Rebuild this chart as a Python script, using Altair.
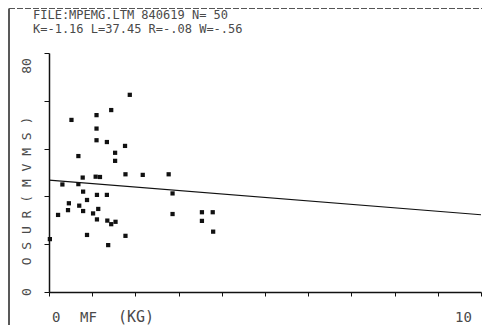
import altair as alt
import pandas as pd

# Data
mf = [1.87, 1.44, 1.10, 0.52, 1.10, 1.10, 1.34, 1.76, 1.53, 0.68, 1.53, 0.78, 1.08, 1.18,
      1.77, 2.17, 2.77, 0.31, 0.68, 0.79, 1.11, 1.34, 0.88, 0.46, 0.70, 0.44, 0.79, 1.14,
      0.21, 1.02, 1.11, 1.35, 1.54, 1.44, 0.88, 1.77, 1.37, 0.02, 2.86, 2.86, 3.54, 3.79,
      3.54, 3.80]
osur = [66.0, 60.9, 59.2, 57.6, 54.7, 50.8, 50.2, 48.9, 46.6, 45.5, 43.9, 38.3, 38.6, 38.5,
        39.4, 39.2, 39.4, 36.0, 36.1, 33.6, 32.5, 32.5, 30.8, 29.7, 28.9, 27.4, 27.1, 27.8,
        25.8, 26.3, 24.3, 23.9, 23.5, 22.7, 19.1, 18.8, 15.7, 17.7, 33.0, 26.1, 26.7, 26.7,
        23.8, 20.2]
fit_x = [0, 10]
fit_y = [37.45, 25.85]
x_ticks = list(range(0, 11))
y_ticks = list(range(0, 81, 8))

title1 = "FILE:MPEMG.LTM 840619 N= 50"
title2 = "K=-1.16 L=37.45 R=-.08 W=-.56"
xlab_parts = ["0", "MF", "(KG)"]
xmax_lab = "10"
ylab = "O S U R  ( M V  M S )"
ymax_lab = "80"
ymin_lab = "0"

pts = pd.DataFrame({"mf": mf, "osur": osur})
fit = pd.DataFrame({"mf": fit_x, "osur": fit_y})

FONT = "DejaVu Sans Mono"
TXT = "#4a4a4a"

xs = alt.Scale(domain=[0, 10], nice=False, zero=False)
ys = alt.Scale(domain=[0, 80], nice=False, zero=False)

xaxis = alt.Axis(values=x_ticks, labels=False, title=None, grid=False, tickSize=4,
                 domainColor="#111", tickColor="#111", domainWidth=1.5, tickWidth=1)
yaxis = alt.Axis(values=y_ticks, labels=False, title=None, grid=False, tickSize=5,
                 domainColor="#111", tickColor="#111", domainWidth=1.5, tickWidth=1)

points = alt.Chart(pts).mark_square(size=18, color="#111", opacity=1).encode(
    x=alt.X("mf:Q", scale=xs, axis=xaxis),
    y=alt.Y("osur:Q", scale=ys, axis=yaxis),
)
line = alt.Chart(fit).mark_line(color="#111", strokeWidth=1.2).encode(
    x=alt.X("mf:Q", scale=xs),
    y=alt.Y("osur:Q", scale=ys),
)

one = alt.Data(values=[{"a": 1}])

def txt(s, x, y, size=13, align="left", baseline="alphabetic", angle=0):
    kw = dict(text=s, font=FONT, fontSize=size, color=TXT, align=align, baseline=baseline)
    if angle:
        kw["angle"] = angle
    return alt.Chart(one).mark_text(**kw).encode(x=alt.value(x), y=alt.value(y))

texts = [
    txt(title1, -16, -34, 12),
    txt(title2, -16, -20.5, 12),
    txt(xlab_parts[0], 3, 269, 14),
    txt(xlab_parts[1], 31, 269, 14),
    txt(xlab_parts[2], 69, 269, 15),
    txt(xmax_lab, 406, 269, 14),
    txt(ymax_lab, -22, 13, 13, align="center", baseline="middle", angle=270),
    txt(ylab, -22, 138, 13, align="center", baseline="middle", angle=270),
    txt(ymin_lab, -22, 239, 13, align="center", baseline="middle", angle=270),
]

border_left = alt.Chart(one).mark_rule(color="#222", strokeWidth=1.5).encode(
    x=alt.value(-40), y=alt.value(-44.5), y2=alt.value(280))
border_top = alt.Chart(one).mark_rule(color="#555", strokeWidth=1, strokeDash=[6, 2]).encode(
    x=alt.value(-40), x2=alt.value(433), y=alt.value(-44.5))

chart = alt.layer(border_left, border_top, line, points, *texts).properties(
    width=432, height=239,
    autosize=alt.AutoSizeParams(type="none"),
    padding={"left": 41, "top": 45, "right": 1, "bottom": 33},
).configure_view(stroke=None)

chart.save("out.html", embed_options={"renderer": "svg", "actions": False})
